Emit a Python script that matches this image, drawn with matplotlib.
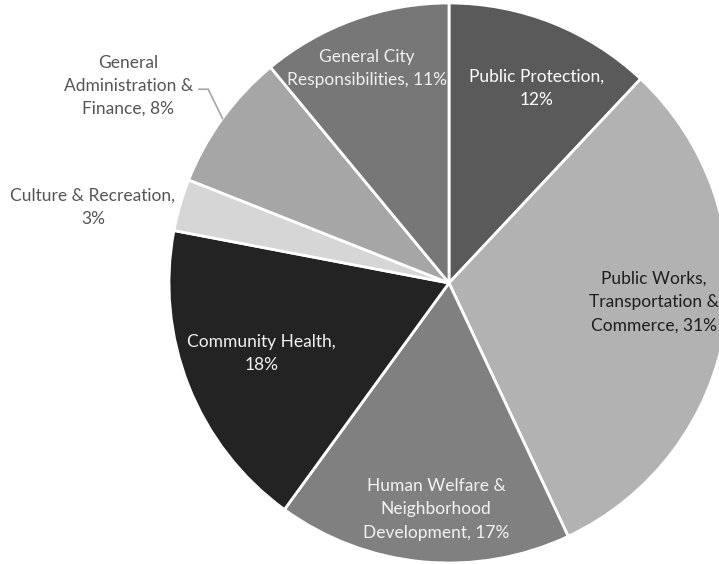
import matplotlib.pyplot as plt
import numpy as np

plt.rcParams["font.family"] = ["Lato", "DejaVu Sans"]

# budget shares, clockwise from 12 o'clock
categories = [
    "Public Protection",
    "Public Works,\nTransportation &\nCommerce",
    "Human Welfare &\nNeighborhood\nDevelopment",
    "Community Health",
    "Culture & Recreation",
    "General\nAdministration &\nFinance",
    "General City\nResponsibilities",
]
shares = [12, 31, 17, 18, 3, 8, 11]

colours = ["#5a5a5a", "#b2b2b2", "#808080", "#232323", "#d6d6d6", "#a6a6a6", "#777777"]
text_colours = ["white", "#1e1e1e", "#f2f2f2", "#f2f2f2", "#555555", "#555555", "#f0f0f0"]

# label placement: (distance from centre, angle nudge in degrees)
label_layout = [
    (0.762, -2.5),
    (0.735, 3.7),
    (0.81, 2.1),
    (0.715, -1.1),
    (1.30, 4.2),
    (1.345, 4.4),
    (0.82, 1.1),
]

fig = plt.figure(figsize=(7.19, 5.64), dpi=100)
W, H = 719, 564
cx, cy, r = 449, 281, 280
ax = fig.add_axes([(cx - r) / W, (cy - r) / H, 2 * r / W, 2 * r / H])

wedges, _ = ax.pie(
    shares,
    colors=colours,
    startangle=90,
    counterclock=False,
    radius=1.0,
    wedgeprops=dict(edgecolor="white", linewidth=2),
)
# pie() resets the limits, so pin them afterwards
ax.set_xlim(-1, 1)
ax.set_ylim(-1, 1)
ax.axis("off")

for wedge, name, pct, tc, (dist, nudge) in zip(
    wedges, categories, shares, text_colours, label_layout
):
    mid = np.deg2rad((wedge.theta1 + wedge.theta2) / 2 + nudge)
    x, y = dist * np.cos(mid), dist * np.sin(mid)
    label = f"{name}, {pct}%"
    if name in ("Public Protection", "Community Health", "Culture & Recreation"):
        label = f"{name},\n{pct}%"
    ax.text(x, y, label, ha="center", va="center", fontsize=12.5,
            color=tc, linespacing=1.55, clip_on=False)

    if name.startswith("General\nAdmin"):
        # leader line from label to the slice edge
        edge_ang = np.deg2rad((wedge.theta1 + wedge.theta2) / 2)
        ex, ey = np.cos(edge_ang), np.sin(edge_ang)
        ax.plot([-0.893, -0.86, ex], [0.692, 0.692, ey], color="#a6a6a6",
                linewidth=1.2, clip_on=False)

fig.savefig("out.png", dpi=100)
